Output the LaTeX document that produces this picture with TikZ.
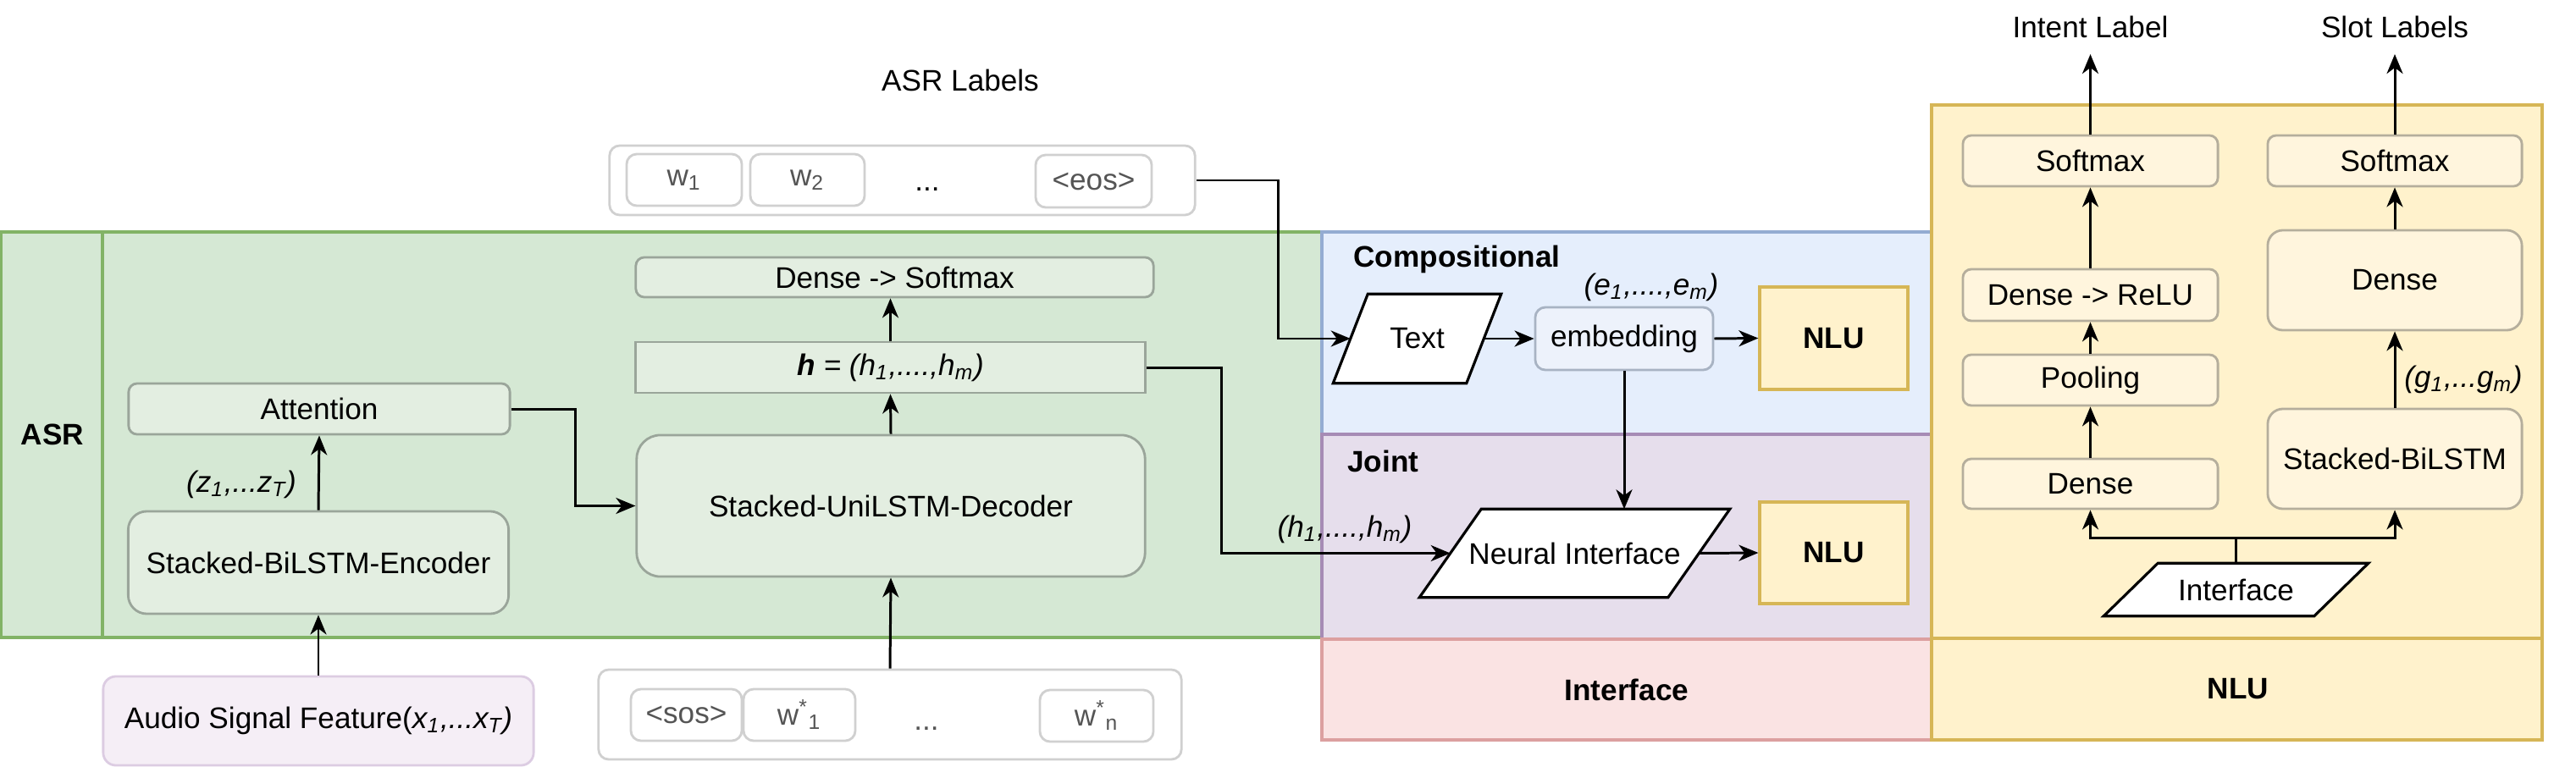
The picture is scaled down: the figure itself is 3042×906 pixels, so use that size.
\documentclass[tikz,border=0pt]{standalone}
\usepackage{fontspec}
\setmainfont{Liberation Sans}
\usetikzlibrary{arrows.meta,calc}
\definecolor{asrfill}{HTML}{D5E8D4}
\definecolor{asrline}{HTML}{82B366}
\definecolor{asrinner}{HTML}{E3EEE1}
\definecolor{asrstroke}{HTML}{9AA59A}
\definecolor{compfill}{HTML}{E5EEFC}
\definecolor{compline}{HTML}{94ACD2}
\definecolor{jointfill}{HTML}{E6DEEC}
\definecolor{jointline}{HTML}{A68BB5}
\definecolor{ifill}{HTML}{FAE3E3}
\definecolor{iline}{HTML}{DCA0A0}
\definecolor{nlufill}{HTML}{FFF2CC}
\definecolor{nluline}{HTML}{D6B656}
\definecolor{nluinner}{HTML}{FFF5DD}
\definecolor{nlustroke}{HTML}{B5AE9C}
\definecolor{audiofill}{HTML}{F5EEF6}
\definecolor{audioline}{HTML}{DCCCE2}
\definecolor{lblline}{HTML}{D0D0D0}
\definecolor{lbltext}{HTML}{555555}
\definecolor{embfill}{HTML}{EDF2FB}
\definecolor{embline}{HTML}{A8B3C3}
\pgfdeclarelayer{back}
\pgfdeclarelayer{mid}
\pgfsetlayers{back,mid,main}
\newcommand\drawpara[2]{%
  \begin{pgfonlayer}{mid}
  \draw[fill=white, line width=0.9pt] (#1.south west) -- ($(#1.north west)+(#2,0)$) -- (#1.north east) -- ($(#1.south east)+(-#2,0)$) -- cycle;
  \end{pgfonlayer}
  \coordinate (#1-w) at ($(#1.west)+(0.5*#2,0)$);
  \coordinate (#1-e) at ($(#1.east)+(-0.5*#2,0)$);
}
\begin{document}
\begin{tikzpicture}[x=0.01cm, y=-0.01cm,
  font=\fontsize{10}{12}\selectfont,
  base/.style={inner sep=0pt, align=center},
  asrbox/.style={base, draw=asrstroke, fill=asrinner, line width=0.8pt, rounded corners=0.1cm},
  lblbox/.style={base, draw=lblline, fill=white, line width=0.8pt, rounded corners=0.12cm, text=lbltext},
  nlubox/.style={base, draw=nlustroke, fill=nluinner, line width=0.8pt, rounded corners=0.1cm},
  nlutarget/.style={base, draw=nluline, fill=nlufill, line width=0.9pt, font=\fontsize{10}{12}\selectfont\bfseries},
  bold/.style={font=\fontsize{10}{12}\selectfont\bfseries},
  mathlbl/.style={font=\fontsize{10}{12}\selectfont\itshape},
  arr/.style={-{Stealth[length=0.23cm,width=0.19cm,inset=0.07cm]}, line width=0.85pt},
  region/.style={line width=1pt}]
\useasboundingbox (0,0) rectangle (3042,906);

% ---------- regions ----------
\begin{pgfonlayer}{back}
\draw[region, fill=asrfill, draw=asrline] (1,274) rectangle (1561,753);
\draw[region, draw=asrline] (121,274) -- (121,753);
\draw[region, fill=compfill, draw=compline] (1561,274) rectangle (2281,513);
\draw[region, fill=jointfill, draw=jointline] (1561,513) rectangle (2281,755);
\draw[region, fill=ifill, draw=iline] (1561,755) rectangle (2281,874);
\draw[region, fill=nlufill, draw=nluline] (2281,124) rectangle (3002,874);
\draw[region, draw=nluline] (2281,754) -- (3002,754);
\end{pgfonlayer}

\node[bold] (asrlbl) at (62,513) {ASR};
\node[bold, anchor=west] (complbl) at (1586,306) {Compositional};
\node[bold, anchor=west] (jointlbl) at (1579,545) {Joint};
\node[bold] (ifacelbl) at (1921,815) {Interface};
\node[bold] (nlulbl) at (2643,814) {NLU};

% ---------- ASR ----------
\node (asrlabels) at (1134,95) {ASR Labels};
\node[lblbox, minimum width=6.91cm, minimum height=0.82cm] (lbls) at (1065.5,213) {};
\node[lblbox, minimum width=1.36cm, minimum height=0.61cm] (w1) at (808,212.5) {w\textsubscript{1}};
\node[lblbox, minimum width=1.35cm, minimum height=0.61cm] (w2) at (953.5,212.5) {w\textsubscript{2}};
\node[base] (dots1) at (1095,224) {...};
\node[lblbox, minimum width=1.37cm, minimum height=0.62cm] (eos) at (1291.5,214) {<eos>};

\node[asrbox, minimum width=6.11cm, minimum height=0.47cm] (densesm) at (1056.5,327.5) {Dense -> Softmax};
\node[asrbox, rounded corners=0pt, minimum width=6.01cm, minimum height=0.6cm] (hbox) at (1051.5,434)
  {\textbf{\textit{h}} \textit{= (h\textsubscript{1},....,h\textsubscript{m})}};
\node[asrbox, rounded corners=0.28cm, minimum width=6cm, minimum height=1.67cm] (dec) at (1052,597.5) {Stacked-UniLSTM-Decoder};
\node[asrbox, minimum width=4.5cm, minimum height=0.6cm] (att) at (377,483) {Attention};
\node[asrbox, rounded corners=0.22cm, minimum width=4.49cm, minimum height=1.21cm] (enc) at (376,664.5) {Stacked-BiLSTM-Encoder};
\node[mathlbl] (zlbl) at (285,572) {(z\textsubscript{1},...z\textsubscript{T})};

\node[base, draw=audioline, fill=audiofill, line width=0.8pt, rounded corners=0.15cm, minimum width=5.08cm, minimum height=1.05cm] (audio) at (376,851.5)
  {Audio Signal Feature(\textit{x\textsubscript{1},...x\textsubscript{T})}};
\node[lblbox, minimum width=6.88cm, minimum height=1.06cm] (sosgrp) at (1051,844) {};
\node[lblbox, minimum width=1.31cm, minimum height=0.61cm] (sos) at (810.5,844.5) {<sos>};
\node[lblbox, minimum width=1.32cm, minimum height=0.61cm] (ws1) at (944,844.5) {w\textsuperscript{*}\textsubscript{1}};
\node[base, text=lbltext] (dots2) at (1094,861) {...};
\node[lblbox, minimum width=1.34cm, minimum height=0.61cm] (wsn) at (1295,845.5) {w\textsuperscript{*}\textsubscript{n}};

\draw[arr] (audio.north) -- (enc.south);
\draw[arr] (enc.north) -- (att.south);
\draw[arr] (att.east) -- ++(76,0) |- (dec.west);
\draw[arr] (sosgrp.north) -- (dec.south);
\draw[arr] (dec.north) -- (hbox.south);
\draw[arr] (hbox.north) -- (hbox.north |- densesm.south);

% ---------- Compositional / Joint ----------
\node[base, minimum width=1.97cm, minimum height=1.04cm] (txt) at (1673.5,400) {Text};
\drawpara{txt}{41}
\node[base, draw=embline, fill=embfill, line width=0.8pt, rounded corners=0.12cm, minimum width=2.1cm, minimum height=0.74cm] (emb) at (1918,400) {embedding};
\node[mathlbl] (elbl) at (1950,339) {(e\textsubscript{1},....,e\textsubscript{m})};
\node[nlutarget, minimum width=1.75cm, minimum height=1.21cm] (nlu1) at (2165.5,399.5) {NLU};

\node[base, minimum width=3.65cm, minimum height=1.03cm] (ni) at (1859.5,653.5) {Neural Interface};
\drawpara{ni}{73}
\node[nlutarget, minimum width=1.75cm, minimum height=1.2cm] (nlu2) at (2165.5,653) {NLU};
\node[mathlbl] (hlbl) at (1588,625) {(h\textsubscript{1},....,h\textsubscript{m})};

\draw[arr] (lbls.east) -- ++(97,0) |- (txt-w);
\draw[arr] (txt-e) -- (emb.west);
\draw[arr] (emb.east) -- (nlu1.west);
\draw[arr] (emb.south) -- (emb.south |- ni.north);
\draw[arr] (hbox.east) -- ++(89,0) |- (ni-w);
\draw[arr] (ni-e) -- (nlu2.west);

% ---------- NLU ----------
\node[nlubox, minimum width=3.01cm, minimum height=0.6cm] (smL) at (2468.5,190) {Softmax};
\node[nlubox, minimum width=3.01cm, minimum height=0.61cm] (relu) at (2468.5,348.5) {Dense -> ReLU};
\node[nlubox, minimum width=3.01cm, minimum height=0.6cm] (pool) at (2468.5,449) {Pooling};
\node[nlubox, minimum width=3.01cm, minimum height=0.59cm] (denseL) at (2468.5,571.5) {Dense};
\node[nlubox, minimum width=3cm, minimum height=0.6cm] (smR) at (2828,190) {Softmax};
\node[nlubox, rounded corners=0.18cm, minimum width=3cm, minimum height=1.18cm] (denseR) at (2828,331) {Dense};
\node[nlubox, rounded corners=0.18cm, minimum width=3cm, minimum height=1.18cm] (bilstm) at (2828,542) {Stacked-BiLSTM};
\node[mathlbl] (glbl) at (2909,448) {(g\textsubscript{1},...g\textsubscript{m})};

\node[base, minimum width=3.11cm, minimum height=0.61cm] (iface) at (2640.5,696.5) {Interface};
\drawpara{iface}{64}

\node (intent) at (2468.5,32) {Intent Label};
\node (slot) at (2828,32) {Slot Labels};
\coordinate (intenttip) at (2468.5,64);
\coordinate (slottip) at (2828,64);

\draw[arr] (iface.north) -- ++(0,-30) -| (denseL.south);
\draw[arr] (iface.north) -- ++(0,-30) -| (bilstm.south);
\draw[arr] (denseL.north) -- (pool.south);
\draw[arr] (pool.north) -- (relu.south);
\draw[arr] (relu.north) -- (smL.south);
\draw[arr] (smL.north) -- (intenttip);
\draw[arr] (bilstm.north) -- (denseR.south);
\draw[arr] (denseR.north) -- (smR.south);
\draw[arr] (smR.north) -- (slottip);
\end{tikzpicture}
\end{document}
